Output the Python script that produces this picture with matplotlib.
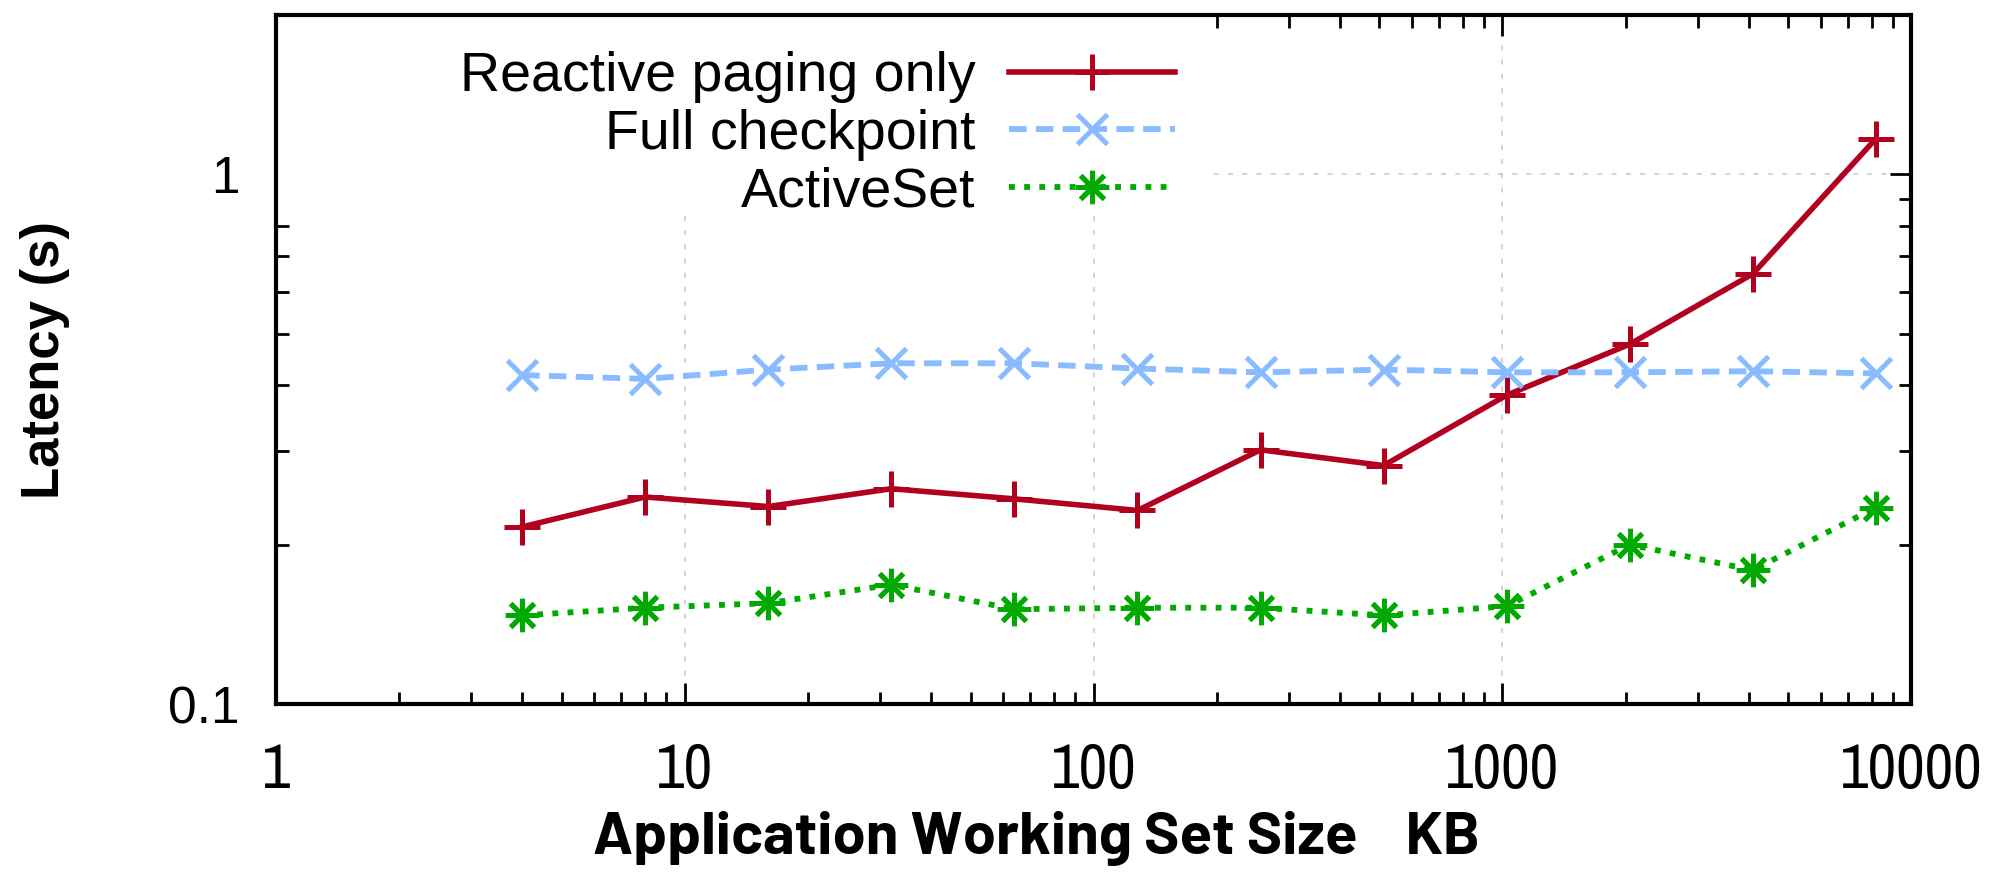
import matplotlib
matplotlib.use("Agg")
import matplotlib.pyplot as plt
from matplotlib.patches import Rectangle
from matplotlib.ticker import FixedLocator, LogLocator, NullFormatter

# working set size in KB
sizes = [4, 8, 16, 32, 64, 128, 256, 512, 1024, 2048, 4096, 8192]

reactive = [0.216, 0.246, 0.236, 0.255, 0.244, 0.232, 0.302, 0.282, 0.383, 0.478, 0.649, 1.168]
full_ckpt = [0.418, 0.411, 0.428, 0.440, 0.440, 0.430, 0.423, 0.428, 0.423, 0.423, 0.425, 0.421]
active_set = [0.147, 0.152, 0.155, 0.168, 0.151, 0.152, 0.152, 0.147, 0.153, 0.200, 0.179, 0.235]

x_ticks = [1, 10, 100, 1000, 10000]
x_labels = ["1", "10", "100", "1000", "10000"]
y_ticks = [0.1, 1]
y_labels = ["0.1", "1"]

narrow = ["Archivo Narrow", "DejaVu Sans"]
narrow_bold = ["Barlow", "Barlow Semi Condensed", "DejaVu Sans"]
wide = ["Liberation Sans", "DejaVu Sans"]

fig = plt.figure(figsize=(20.03, 8.74), dpi=100)
ax = fig.add_axes([0.1378, 0.1945, 0.8164, 0.7883])

ax.plot(sizes, reactive, color="#b2001f", lw=4, marker="+", ms=26, mew=3.6,
        label="Reactive paging only", zorder=3)
ax.plot(sizes, full_ckpt, color="#88bbff", lw=4.2, ls=(0, (3, 1.6)), marker="x", ms=22, mew=3.6,
        label="Full checkpoint", zorder=3)
ax.plot(sizes, active_set, color="#00aa00", lw=4.2, ls=(0, (1, 1.6)), marker=(8, 2, 0), ms=24, mew=3.6,
        label="ActiveSet", zorder=3)

ax.set_xscale("log")
ax.set_yscale("log")
ax.set_xlim(1, 10000)
ax.set_ylim(0.1, 2)

ax.xaxis.set_major_locator(FixedLocator(x_ticks))
ax.set_xticklabels(x_labels, family=narrow, fontsize=45)
ax.xaxis.set_minor_locator(LogLocator(base=10, subs=range(2, 10), numticks=20))
ax.xaxis.set_minor_formatter(NullFormatter())
ax.yaxis.set_major_locator(FixedLocator(y_ticks))
ax.set_yticklabels(y_labels, family=wide, fontsize=37)
ax.yaxis.set_minor_locator(LogLocator(base=10, subs=range(2, 10), numticks=20))
ax.yaxis.set_minor_formatter(NullFormatter())

ax.tick_params(which="both", direction="in", top=True, right=True, width=2)
ax.tick_params(which="major", length=15)
ax.tick_params(which="minor", length=9)
ax.tick_params(axis="x", which="major", pad=27)
ax.tick_params(axis="y", which="major", pad=26)

for s in ax.spines.values():
    s.set_linewidth(3)

ax.grid(True, which="major", color="#c8c8c8", ls=(0, (3.3, 6)), lw=1.1)

# opaque key area, like gnuplot's boxed key: hides the grid behind it
ax.add_patch(Rectangle((0, 0.714), 0.571, 0.286, transform=ax.transAxes,
                       facecolor="white", edgecolor="none", zorder=2))

ax.set_ylabel("Latency (s)", family=wide, fontweight="bold", fontsize=38)
ax.yaxis.set_label_coords(-0.126, 0.5)
ax.set_xlabel("Application Working Set Size    KB", family=narrow_bold, fontweight="bold", fontsize=43)
ax.xaxis.set_label_coords(0.465, -0.156)

leg = ax.legend(loc="upper right", bbox_to_anchor=(0.572, 1.0), markerfirst=False,
                prop={"family": wide, "size": 40}, frameon=False,
                handlelength=3.0, handletextpad=0.6,
                labelspacing=0.1, borderpad=0.15)
leg.set_zorder(5)

fig.savefig("out.png", dpi=100)
